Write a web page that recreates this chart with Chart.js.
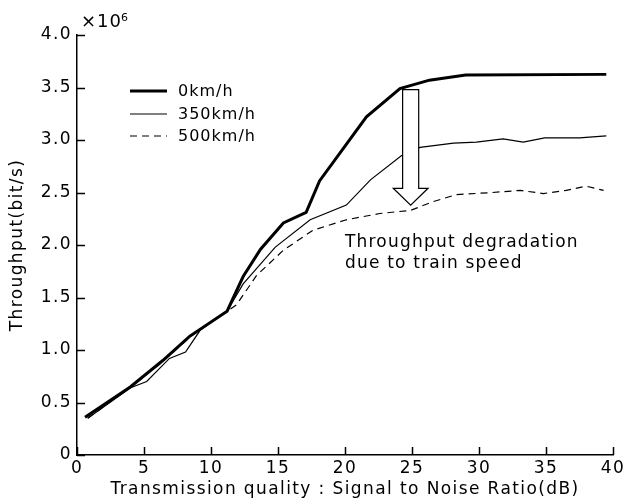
<!DOCTYPE html>
<html>
<head>
<meta charset="utf-8">
<script src="https://cdn.jsdelivr.net/npm/chart.js@4"></script>
<style>
  html, body { margin: 0; padding: 0; background: #fff; }
  #wrap { width: 627px; height: 502px; position: relative; }
</style>
</head>
<body>
<div id="wrap"><canvas id="c"></canvas></div>
<script>
const FONT = "'DejaVu Sans', sans-serif";

// 0 km/h
const snr0 = [0.6, 4.0, 6.4, 8.4, 11.2, 12.4, 13.7, 15.4, 17.1, 18.1, 21.6, 24.1, 26.3, 29.0, 39.5];
const thr0 = [0.36, 0.65, 0.90, 1.13, 1.37, 1.70, 1.96, 2.21, 2.31, 2.61, 3.22, 3.49, 3.57, 3.62, 3.625];

// 350 km/h
const snr350 = [0.8, 4.0, 5.2, 6.9, 8.1, 9.2, 11.2, 12.4, 14.8, 17.4, 20.1, 21.9, 24.2, 25.6, 28.1, 29.8, 31.8, 33.3, 34.9, 37.5, 39.5];
const thr350 = [0.35, 0.64, 0.70, 0.92, 0.98, 1.19, 1.37, 1.63, 1.98, 2.24, 2.38, 2.62, 2.85, 2.93, 2.97, 2.98, 3.01, 2.98, 3.02, 3.02, 3.04];

// 500 km/h
const snr500 = [0.8, 4.0, 6.4, 8.4, 11.2, 11.9, 13.4, 15.4, 17.6, 20.1, 22.6, 24.9, 26.5, 28.3, 31.0, 33.1, 34.8, 36.5, 38.0, 39.3];
const thr500 = [0.35, 0.65, 0.89, 1.12, 1.37, 1.43, 1.71, 1.95, 2.14, 2.24, 2.30, 2.33, 2.41, 2.48, 2.50, 2.52, 2.49, 2.52, 2.56, 2.52];

const xTicks = [0, 5, 10, 15, 20, 25, 30, 35, 40];
const yTicks = [0, 0.5, 1.0, 1.5, 2.0, 2.5, 3.0, 3.5, 4.0];

const pts = (xs, ys) => xs.map((x, i) => ({ x, y: ys[i] }));

// the reference type is wide, so space the letters out a little
const spacing = {
  id: "spacing",
  beforeDraw(chart) { chart.ctx.letterSpacing = "1.4px"; },
};

const inwardTicks = {
  id: "inwardTicks",
  afterDraw(chart) {
    const { ctx, scales: { x, y } } = chart;
    ctx.save();
    ctx.strokeStyle = "#000";
    ctx.lineWidth = 1.5;
    ctx.beginPath();
    x.ticks.forEach((t) => {
      const px = Math.round(x.getPixelForValue(t.value)) + 0.5;
      ctx.moveTo(px, y.bottom);
      ctx.lineTo(px, y.bottom - 8);
    });
    y.ticks.forEach((t) => {
      const py = Math.round(y.getPixelForValue(t.value)) + 0.5;
      ctx.moveTo(x.left, py);
      ctx.lineTo(x.left + 8, py);
    });
    ctx.stroke();
    ctx.restore();
  },
};

const extras = {
  id: "extras",
  afterDatasetsDraw(chart) {
    const { ctx, scales: { x, y } } = chart;
    ctx.save();

    // exponent label
    ctx.fillStyle = "#000";
    ctx.textBaseline = "alphabetic";
    ctx.textAlign = "left";
    ctx.letterSpacing = "1px";
    ctx.font = `18px ${FONT}`;
    ctx.fillText("\u00d710", 81, 27);
    const w = ctx.measureText("\u00d710").width;
    ctx.font = `11px ${FONT}`;
    ctx.fillText("6", 80 + w, 21);

    // legend
    ctx.font = `16px ${FONT}`;
    ctx.textBaseline = "middle";
    const rows = [91, 114, 136];
    chart.data.datasets.forEach((ds, i) => {
      ctx.beginPath();
      ctx.lineWidth = ds.borderWidth;
      ctx.setLineDash(ds.borderDash || []);
      ctx.moveTo(130, rows[i]);
      ctx.lineTo(167, rows[i]);
      ctx.stroke();
      ctx.setLineDash([]);
      ctx.fillText(ds.label, 178, rows[i] + 1);
    });

    // degradation arrow
    const cx = x.getPixelForValue(24.9);
    const sh = x.getPixelForValue(25.5) - cx;
    const hh = x.getPixelForValue(26.2) - cx;
    const top = y.getPixelForValue(3.48);
    const base = y.getPixelForValue(2.54);
    const tip = y.getPixelForValue(2.38);
    ctx.beginPath();
    ctx.moveTo(cx - sh, top);
    ctx.lineTo(cx + sh, top);
    ctx.lineTo(cx + sh, base);
    ctx.lineTo(cx + hh, base);
    ctx.lineTo(cx, tip);
    ctx.lineTo(cx - hh, base);
    ctx.lineTo(cx - sh, base);
    ctx.closePath();
    ctx.fillStyle = "#fff";
    ctx.fill();
    ctx.lineWidth = 1.2;
    ctx.strokeStyle = "#000";
    ctx.stroke();

    // annotation text
    ctx.fillStyle = "#000";
    ctx.font = `17px ${FONT}`;
    ctx.letterSpacing = "1.2px";
    ctx.textAlign = "left";
    ctx.fillText("Throughput degradation", 345, 243);
    ctx.fillText("due to train speed", 345, 264);
    ctx.restore();
  },
};

new Chart(document.getElementById("c"), {
  type: "line",
  data: {
    datasets: [
      { label: "0km/h", data: pts(snr0, thr0), borderColor: "#000", borderWidth: 3, pointRadius: 0, tension: 0 },
      { label: "350km/h", data: pts(snr350, thr350), borderColor: "#000", borderWidth: 1.2, pointRadius: 0, tension: 0 },
      { label: "500km/h", data: pts(snr500, thr500), borderColor: "#000", borderWidth: 1.2, borderDash: [7, 5], pointRadius: 0, tension: 0 },
    ],
  },
  options: {
    responsive: true,
    maintainAspectRatio: false,
    animation: false,
    layout: { padding: { top: 35, right: 14, left: 0, bottom: 0 } },
    plugins: { legend: { display: false }, tooltip: { enabled: false } },
    scales: {
      x: {
        type: "linear",
        min: 0,
        max: 40,
        afterBuildTicks(s) { s.ticks = xTicks.map((v) => ({ value: v })); },
        afterFit(s) { s.height = 47; },
        grid: { drawOnChartArea: false, drawTicks: false },
        border: { color: "#000", width: 1.5 },
        ticks: { color: "#000", padding: 3, font: { family: FONT, size: 17 }, callback: (v) => String(v) },
        title: { display: true, text: "Transmission quality : Signal to Noise Ratio(dB)", color: "#000", font: { family: FONT, size: 17 }, padding: { top: 0, bottom: 2 } },
      },
      y: {
        min: 0,
        max: 4,
        afterBuildTicks(s) { s.ticks = yTicks.map((v) => ({ value: v })); },
        afterFit(s) { s.width = 77; },
        grid: { drawOnChartArea: false, drawTicks: false },
        border: { color: "#000", width: 1.5 },
        ticks: { color: "#000", padding: 5, font: { family: FONT, size: 17 }, callback: (v) => (v === 0 ? "0" : v.toFixed(1)) },
        title: { display: true, text: "Throughput(bit/s)", color: "#000", font: { family: FONT, size: 17 }, padding: { top: 7, bottom: 0 } },
      },
    },
  },
  plugins: [spacing, inwardTicks, extras],
});
</script>
</body>
</html>
